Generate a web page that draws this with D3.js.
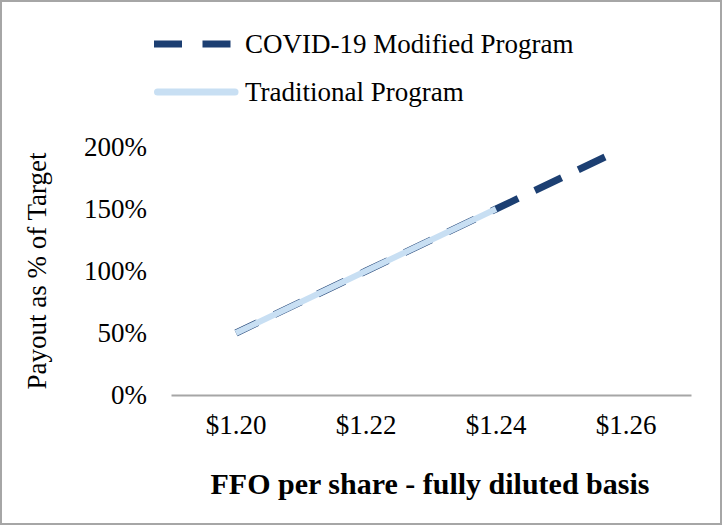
<!DOCTYPE html>
<html>
<head>
<meta charset="utf-8">
<script src="https://cdn.jsdelivr.net/npm/d3@7"></script>
<style>
  body { margin: 0; background: #fff; }
  text { font-family: "Liberation Serif", "Times New Roman", serif; fill: #000; }
</style>
</head>
<body>
<script>
// Data
let categories = ['$1.20', '$1.22', '$1.24', '$1.26'];
let covidValues = [0.50, 1.00, 1.50, 2.00];
let traditionalValues = [0.50, 1.00, 1.50];
let yTicks = [0, 0.5, 1, 1.5, 2];

let width = 722, height = 525;
let margin = { top: 147, bottom: 130, left: 171, right: 31 };

let navy = '#1c3f72';
let light = '#c8dff3';

let svg = d3.select('body')
    .append('svg')
    .attr('width', width)
    .attr('height', height);

// outer border
svg.append('rect')
    .attr('x', 1).attr('y', 1)
    .attr('width', width - 2).attr('height', height - 2)
    .attr('fill', '#fff')
    .attr('stroke', '#a6a6a6')
    .attr('stroke-width', 2);

// Scales
let xScale = d3.scaleBand()
    .domain(categories)
    .range([margin.left, width - margin.right]);

let yScale = d3.scaleLinear()
    .domain([0, 2])
    .range([height - margin.bottom, margin.top]);

let xPos = d => xScale(d) + xScale.bandwidth() / 2;

// Y axis (labels only)
let yAxis = svg.append('g')
    .attr('transform', `translate(${margin.left},0)`)
    .call(d3.axisLeft(yScale).tickValues(yTicks).tickFormat(d3.format('.0%')).tickSize(0).tickPadding(24));
yAxis.select('.domain').remove();
yAxis.selectAll('text')
    .style('font-size', '27px')
    .style('font-family', '"Liberation Serif", serif');

// X axis
let xAxis = svg.append('g')
    .attr('transform', `translate(0,${height - margin.bottom})`)
    .call(d3.axisBottom(xScale).tickSize(0).tickPadding(20));
xAxis.select('.domain')
    .attr('stroke', '#a6a6a6')
    .attr('stroke-width', 2);
xAxis.selectAll('text')
    .style('font-size', '27px')
    .style('font-family', '"Liberation Serif", serif');

// Axis titles
svg.append('text')
    .attr('transform', `translate(46,271) rotate(-90)`)
    .attr('text-anchor', 'middle')
    .style('font-size', '27px')
    .text('Payout as % of Target');

svg.append('text')
    .attr('x', 430)
    .attr('y', 494)
    .attr('text-anchor', 'middle')
    .style('font-size', '30px')
    .style('font-weight', 'bold')
    .text('FFO per share - fully diluted basis');

// Lines
let line = d3.line()
    .x((d, i) => xPos(categories[i]))
    .y(d => yScale(d));

let covidPath = svg.append('path')
    .datum(covidValues)
    .attr('d', line)
    .attr('fill', 'none')
    .attr('stroke', navy)
    .attr('stroke-width', 7);

// long dash pattern that drops a partial dash at the end
let dash = 29.6, gap = 18.5, first = 24;
let total = covidPath.node().getTotalLength();
let pattern = [first, gap];
let pos = first + gap;
while (pos + dash <= total) {
    pattern.push(dash, gap);
    pos += dash + gap;
}
pattern[pattern.length - 1] += total;
covidPath.attr('stroke-dasharray', pattern.join(','));

svg.append('path')
    .datum(traditionalValues)
    .attr('d', line)
    .attr('fill', 'none')
    .attr('stroke', light)
    .attr('stroke-width', 6);

// Legend
let legend = svg.append('g');
legend.append('line')
    .attr('x1', 154).attr('x2', 238)
    .attr('y1', 44).attr('y2', 44)
    .attr('stroke', navy)
    .attr('stroke-width', 7)
    .attr('stroke-dasharray', '28,20.5');
legend.append('text')
    .attr('x', 245).attr('y', 53)
    .style('font-size', '27px')
    .text('COVID-19 Modified Program');

legend.append('line')
    .attr('x1', 157.5).attr('x2', 235)
    .attr('y1', 92).attr('y2', 92)
    .attr('stroke', light)
    .attr('stroke-width', 7)
    .attr('stroke-linecap', 'round');
legend.append('text')
    .attr('x', 245).attr('y', 101)
    .style('font-size', '27px')
    .text('Traditional Program');
</script>
</body>
</html>
